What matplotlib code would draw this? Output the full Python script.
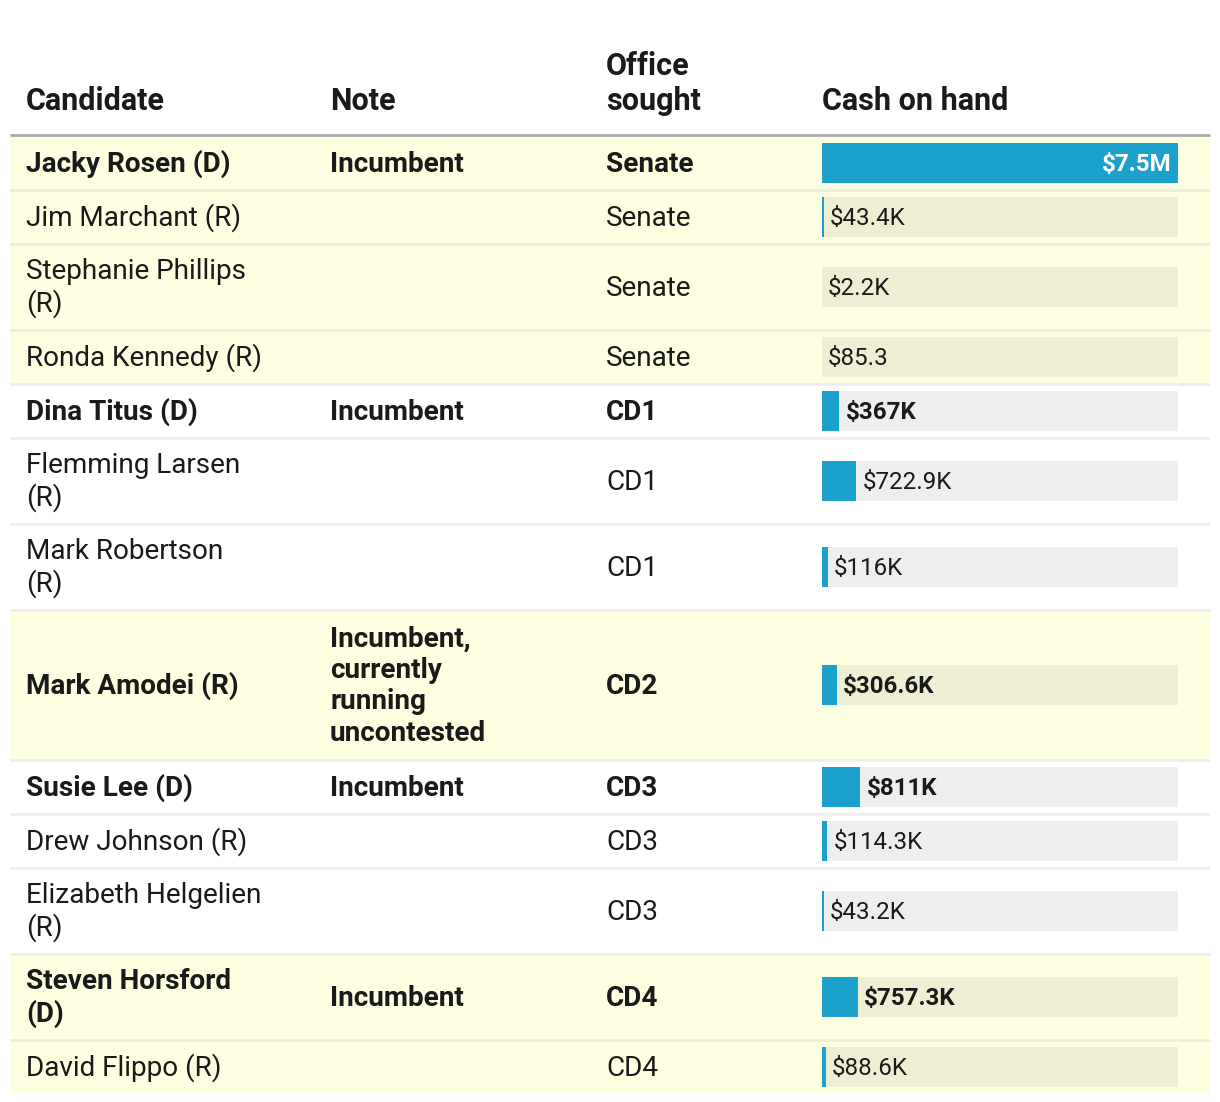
import matplotlib.pyplot as plt
import numpy as np

# =============================================================================
# data
# =============================================================================
candidates = ['Jacky Rosen (D)', 'Jim Marchant (R)', 'Stephanie Phillips\n(R)',
              'Ronda Kennedy (R)', 'Dina Titus (D)', 'Flemming Larsen\n(R)',
              'Mark Robertson\n(R)', 'Mark Amodei (R)', 'Susie Lee (D)',
              'Drew Johnson (R)', 'Elizabeth Helgelien\n(R)', 'Steven Horsford\n(D)',
              'David Flippo (R)']
notes = ['Incumbent', '', '', '', 'Incumbent', '', '',
         'Incumbent,\ncurrently\nrunning\nuncontested', 'Incumbent', '', '',
         'Incumbent', '']
offices = ['Senate', 'Senate', 'Senate', 'Senate', 'CD1', 'CD1', 'CD1',
           'CD2', 'CD3', 'CD3', 'CD3', 'CD4', 'CD4']
cash = [7.5e6, 43.4e3, 2.2e3, 85.3, 367e3, 722.9e3, 116e3,
        306.6e3, 811e3, 114.3e3, 43.2e3, 757.3e3, 88.6e3]
cash_labels = ['$7.5M', '$43.4K', '$2.2K', '$85.3', '$367K', '$722.9K', '$116K',
               '$306.6K', '$811K', '$114.3K', '$43.2K', '$757.3K', '$88.6K']
headers = ['Candidate', 'Note', 'Office\nsought', 'Cash on hand']

# =============================================================================
# style
# =============================================================================
plt.rcParams['font.family'] = ['Roboto', 'DejaVu Sans']
W, H = 1220, 1102
fs = 20.1
fs_head = 22
fs_lab = 17.4
col_x = [26, 330, 606, 822]
bar_x0, bar_x1 = 822, 1178
bar_blue = '#1ba1cc'
yellow = '#fefee0'
track_yel = '#eeeed2'
track_wht = '#eeeeee'
sep_yel = '#eeeed6'
sep_wht = '#eeeeee'
text_col = '#1a1a1a'

fig = plt.figure(figsize=(W/100, H/100), dpi=100)
ax = fig.add_axes([0, 0, 1, 1])
ax.set_xlim(0, W)
ax.set_ylim(H, 0)
ax.axis('off')

# header
for x, h in zip(col_x, headers):
    ax.text(x, 110, h, fontsize=fs_head, fontweight='bold', color=text_col,
            va='baseline', ha='left', linespacing=1.22)
ax.plot([10, 1210], [135, 135], color='#aaaaaa', lw=2, solid_capstyle='butt')

# row geometry
nlines = [max(c.count('\n'), n.count('\n')) + 1 for c, n in zip(candidates, notes)]
heights = [54 + 32*(n-1) for n in nlines]
tops = 136 + np.concatenate([[0], np.cumsum(heights)[:-1]])
centers = tops + np.array(heights)/2

# group shading alternates by office
groups = []
g = -1
prev = None
for o in offices:
    if o != prev:
        g += 1
        prev = o
    groups.append(g)
is_yel = [gg % 2 == 0 for gg in groups]

for i in range(len(candidates)):
    top, h = tops[i], heights[i]
    if is_yel[i]:
        ax.add_patch(plt.Rectangle((10, top), 1200, h, color=yellow, lw=0, zorder=0))
    bold = 'bold' if notes[i] else 'normal'
    c = centers[i] + 1
    ax.text(col_x[0], c, candidates[i], fontsize=fs, fontweight=bold,
            color=text_col, va='center', linespacing=1.18)
    ax.text(col_x[1], c, notes[i], fontsize=fs, fontweight=bold,
            color=text_col, va='center', linespacing=1.21)
    ax.text(col_x[2], c, offices[i], fontsize=fs, fontweight=bold,
            color=text_col, va='center')
    if i < len(candidates) - 1:
        nxt = sep_yel if (is_yel[i] and is_yel[i+1]) else sep_wht
        ax.plot([10, 1210], [top + h, top + h], color=nxt, lw=2,
                solid_capstyle='butt', zorder=1)

# bars in their own axes, sharing the pixel y scale
bx = fig.add_axes([bar_x0/W, 0, (bar_x1 - bar_x0)/W, 1])
vmax = max(cash)
bx.set_xlim(0, vmax)
bx.set_ylim(H, 0)
bx.axis('off')
bx.patch.set_alpha(0)
track_cols = [track_yel if y else track_wht for y in is_yel]
bx.barh(centers, [vmax]*len(cash), height=40, color=track_cols, lw=0)
bx.barh(centers, cash, height=40, color=bar_blue, lw=0)
pad = vmax*6/(bar_x1 - bar_x0)
for i, v in enumerate(cash):
    bold = 'bold' if notes[i] else 'normal'
    if v == vmax:
        bx.text(v - pad, centers[i] + 1.5, cash_labels[i], fontsize=fs_lab,
                fontweight='bold', color='white', ha='right', va='center')
    else:
        bx.text(v + pad, centers[i] + 1.5, cash_labels[i], fontsize=fs_lab,
                fontweight=bold, color=text_col, ha='left', va='center')

plt.savefig('out.png', dpi=100)
